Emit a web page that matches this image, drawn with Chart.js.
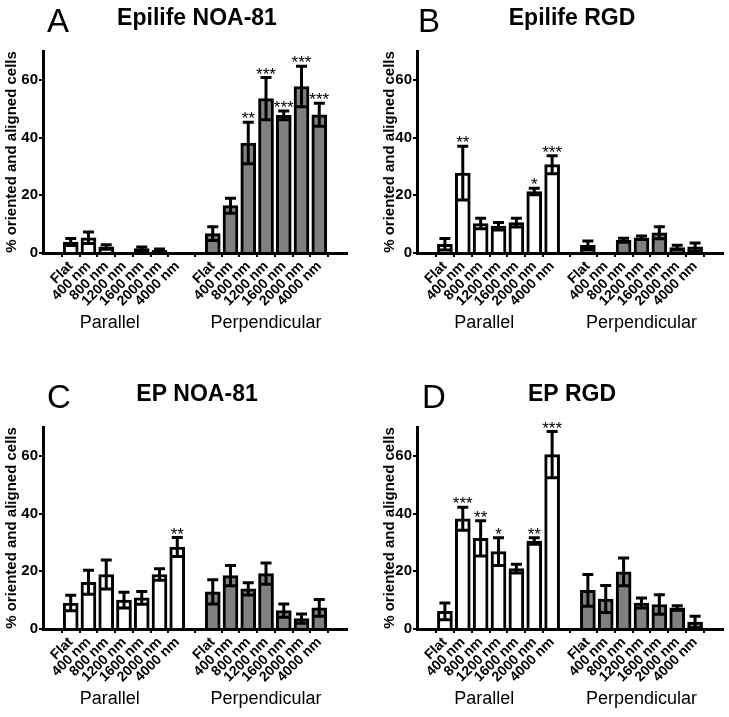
<!DOCTYPE html>
<html>
<head>
<meta charset="utf-8">
<script src="https://cdn.jsdelivr.net/npm/chart.js@4.4.1/dist/chart.umd.min.js"></script>
<style>
  body { margin: 0; background: #fff; }
  #wrap { position: relative; width: 729px; height: 717px; }
  canvas { position: absolute; }
</style>
</head>
<body>
<div id="wrap">
  <canvas id="chartA" width="364" height="358" style="left:0;top:0"></canvas>
  <canvas id="chartB" width="354" height="358" style="left:375px;top:0"></canvas>
  <canvas id="chartC" width="364" height="359" style="left:0;top:358px"></canvas>
  <canvas id="chartD" width="354" height="359" style="left:375px;top:358px"></canvas>
</div>
<script>
const sizes = ['Flat', '400 nm', '800 nm', '1200 nm', '1600 nm', '2000 nm', '4000 nm'];
const groups = ['Parallel', 'Perpendicular'];
const yTicks = [0, 20, 40, 60];

// first 7 = parallel, last 7 = perpendicular
const epiNoaMean  = [3.8, 5.3, 2.1, 0, 1.5, 0.9, 0,  6.7, 16.4, 38.1, 53.5, 47.7, 57.7, 47.9];
const epiNoaSem   = [1.2, 2.0, 0.8, 0, 0.6, 0.5, 0,  2.4, 2.6, 7.2, 7.3, 1.5, 7.0, 4.0];
const epiNoaStars = ['', '', '', '', '', '', '',  '', '', '**', '***', '***', '***', '***'];

const epiRgdMean  = [3.0, 27.7, 10.2, 9.3, 10.5, 21.3, 30.6,  2.7, 0, 4.4, 5.3, 7.0, 1.9, 2.1];
const epiRgdSem   = [2.0, 9.3, 1.8, 1.3, 1.5, 1.1, 3.1,  1.5, 0, 0.7, 0.6, 2.1, 0.8, 1.4];
const epiRgdStars = ['', '**', '', '', '', '*', '***',  '', '', '', '', '', '', ''];

const epNoaMean  = [9.0, 16.2, 18.9, 10.0, 10.8, 18.9, 28.4,  12.9, 18.5, 13.9, 19.2, 6.4, 3.6, 7.3];
const epNoaSem   = [2.7, 4.2, 5.0, 2.7, 2.2, 2.0, 3.3,  4.2, 3.5, 2.1, 3.7, 2.3, 1.6, 2.9];
const epNoaStars = ['', '', '', '', '', '', '**',  '', '', '', '', '', '', ''];

const epRgdMean  = [6.1, 38.2, 31.4, 26.8, 20.9, 30.5, 60.4,  13.4, 10.4, 19.8, 9.0, 8.5, 7.3, 2.4];
const epRgdSem   = [2.9, 4.0, 6.1, 4.8, 1.5, 1.1, 8.0,  5.5, 4.7, 4.8, 1.7, 3.4, 0.8, 2.0];
const epRgdStars = ['', '***', '**', '*', '', '**', '***',  '', '', '', '', '', '', ''];

const FONT = "'Liberation Sans', Arial, sans-serif";
Chart.defaults.font.family = FONT;
Chart.defaults.color = '#000';

// slot position of bar i (blank slot between the two groups)
const pos = i => i < 7 ? i : i + 1;
const tickLabels = {};
sizes.forEach((s, i) => { tickLabels[i] = s; tickLabels[i + 8] = s; });

function makePanel(id, title, letter, mean, sem, stars, lay) {
  const decor = {
    id: 'decor',
    afterDatasetsDraw(chart) {
      const ctx = chart.ctx, ys = chart.scales.y;
      const bars = chart.getDatasetMeta(0).data;
      ctx.save();
      ctx.strokeStyle = '#000';
      ctx.lineWidth = 3;
      bars.forEach((bar, i) => {
        if (!sem[i]) return;
        const x = bar.x;
        const hi = ys.getPixelForValue(mean[i] + sem[i]);
        const lo = ys.getPixelForValue(Math.max(0, mean[i] - sem[i]));
        ctx.beginPath();
        ctx.moveTo(x, lo); ctx.lineTo(x, hi);
        ctx.moveTo(x - 5.5, hi); ctx.lineTo(x + 5.5, hi);
        ctx.moveTo(x - 5.5, lo); ctx.lineTo(x + 5.5, lo);
        ctx.stroke();
      });
      ctx.fillStyle = '#000';
      ctx.font = '17px ' + FONT;
      ctx.textAlign = 'center';
      ctx.textBaseline = 'alphabetic';
      bars.forEach((bar, i) => {
        if (!stars[i]) return;
        ctx.fillText(stars[i], bar.x, ys.getPixelForValue(mean[i] + sem[i]) + 2);
      });
      ctx.restore();
    },
    afterDraw(chart) {
      const ctx = chart.ctx, area = chart.chartArea, xs = chart.scales.x;
      ctx.save();
      ctx.fillStyle = '#000';
      ctx.textBaseline = 'alphabetic';
      ctx.textAlign = 'center';
      ctx.font = 'bold 23px ' + FONT;
      ctx.fillText(title, (area.left + area.right) / 2 + 2, area.top - 26);
      ctx.textAlign = 'left';
      ctx.font = '33px ' + FONT;
      ctx.fillText(letter, lay.letterX, area.top - 19);
      ctx.textAlign = 'center';
      ctx.font = '18px ' + FONT;
      ctx.fillText(groups[0], xs.getPixelForValue(2.2), area.bottom + 75);
      ctx.fillText(groups[1], xs.getPixelForValue(11), area.bottom + 75);
      ctx.restore();
    }
  };

  return new Chart(document.getElementById(id), {
    type: 'bar',
    data: {
      datasets: [{
        data: mean.map((v, i) => ({ x: pos(i), y: v })),
        backgroundColor: mean.map((v, i) => i < 7 ? '#ffffff' : '#808080'),
        borderColor: '#000',
        borderWidth: 3,
        barThickness: 15
      }]
    },
    options: {
      responsive: false,
      animation: false,
      events: [],
      layout: { padding: { top: lay.top, right: lay.right, left: 0, bottom: 0 } },
      plugins: { legend: { display: false }, tooltip: { enabled: false } },
      scales: {
        x: {
          type: 'linear',
          min: -0.95,
          max: 14.95,
          afterBuildTicks: s => { s.ticks = Object.keys(tickLabels).map(v => ({ value: +v })); },
          afterFit: s => { s.height = lay.xHeight; },
          ticks: {
            callback: v => tickLabels[v],
            autoSkip: false,
            minRotation: 45,
            maxRotation: 45,
            padding: 1,
            color: '#000',
            font: { size: 14, weight: 'bold' }
          },
          grid: { drawOnChartArea: false, tickLength: 4, color: '#000', lineWidth: 2 },
          border: { color: '#000', width: 3 }
        },
        y: {
          min: 0,
          max: 70,
          afterBuildTicks: s => { s.ticks = yTicks.map(v => ({ value: v })); },
          afterFit: s => { s.width = lay.yWidth; },
          ticks: { padding: 1, color: '#000', font: { size: 15, weight: 'bold' } },
          grid: { drawOnChartArea: false, tickLength: 4, color: '#000', lineWidth: 2 },
          border: { color: '#000', width: 3 },
          title: {
            display: true,
            text: '% oriented and aligned cells',
            color: '#000',
            font: { size: 15, weight: 'bold' },
            padding: { top: lay.titlePad, bottom: 0 }
          }
        }
      }
    },
    plugins: [decor]
  });
}

makePanel('chartA', 'Epilife NOA-81', 'A', epiNoaMean, epiNoaSem, epiNoaStars,
  { top: 51, right: 17, xHeight: 105, yWidth: 43, letterX: 47, titlePad: 3 });
makePanel('chartB', 'Epilife RGD', 'B', epiRgdMean, epiRgdSem, epiRgdStars,
  { top: 51, right: 6, xHeight: 105, yWidth: 42, letterX: 43, titlePad: 6 });
makePanel('chartC', 'EP NOA-81', 'C', epNoaMean, epNoaSem, epNoaStars,
  { top: 69, right: 17, xHeight: 88, yWidth: 43, letterX: 47, titlePad: 3 });
makePanel('chartD', 'EP RGD', 'D', epRgdMean, epRgdSem, epRgdStars,
  { top: 69, right: 6, xHeight: 88, yWidth: 42, letterX: 47, titlePad: 6 });
</script>
</body>
</html>
